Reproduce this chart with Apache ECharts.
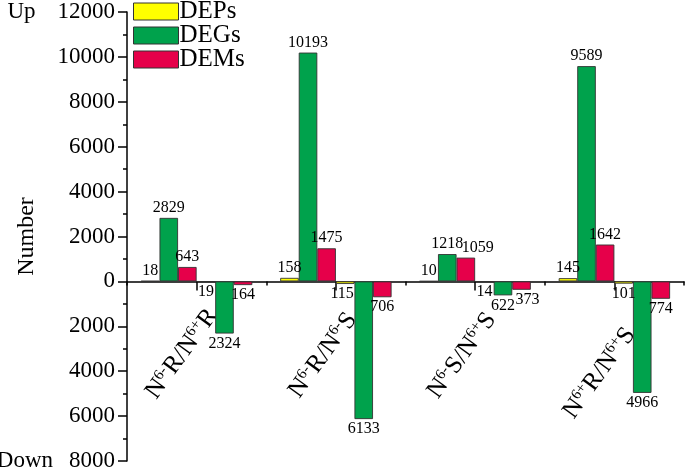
<!DOCTYPE html>
<html>
<head>
<meta charset="utf-8">
<script src="https://cdn.jsdelivr.net/npm/echarts@6/dist/echarts.min.js"></script>
<style>html,body{margin:0;padding:0;background:#fff;}#c{width:685px;height:469px;}</style>
</head>
<body>
<div id="c"></div>
<script>
const categories = ['N6-R/N6+R', 'N6-R/N6-S', 'N6-S/N6+S', 'N6+R/N6+S'];
const upDEPs = [18, 158, 10, 145];
const upDEGs = [2829, 10193, 1218, 9589];
const upDEMs = [643, 1475, 1059, 1642];
const downDEPs = [19, 115, 14, 101];
const downDEGs = [2324, 6133, 622, 4966];
const downDEMs = [164, 706, 373, 774];
const yTicks = { max: 12000, min: -8000, interval: 2000 };

const FONT = 'Liberation Serif';
const colors = { DEPs: '#FFFF00', DEGs: '#00A24C', DEMs: '#E6004A' };

const GRID_TOP = 12, GRID_BOTTOM = 8, H = 469;
const zeroY = GRID_TOP + (H - GRID_TOP - GRID_BOTTOM) * yTicks.max / (yTicks.max - yTicks.min);

// extra downward drop (px) of individual category labels
const catLabelDrop = [0, 4, 4, 19];
// horizontal nudges of a few value labels: key = series key + '-' + category index
const valueLabelNudge = { 'upDEMs-2': 12, 'downDEMs-2': 6, 'downDEPs-1': -3 };

function catLabel(v) {
  return v.split(/(6[+-])/).filter(Boolean).map(p =>
    /^6[+-]$/.test(p) ? '{s|' + p + '}' : '{b|' + p + '}').join('');
}

function mkSeries(key, name, data, up) {
  return {
    type: 'bar', name: name,
    data: data.map((v, i) => {
      const item = { value: up ? v : -v };
      const dx = valueLabelNudge[key + '-' + i];
      if (dx) item.label = { offset: [dx, 0] };
      return item;
    }),
    barGap: '0%', barCategoryGap: '20%',
    itemStyle: { color: colors[name], borderColor: '#333', borderWidth: 0.9 },
    label: {
      show: true, position: up ? 'top' : 'bottom', distance: 2,
      color: '#000', fontFamily: FONT, fontSize: 16,
      formatter: p => String(Math.abs(p.value))
    }
  };
}

const chart = echarts.init(document.getElementById('c'));
chart.setOption({
  animation: false,
  backgroundColor: '#fff',
  grid: [
    { left: 127, right: 1, top: GRID_TOP, bottom: GRID_BOTTOM, containLabel: false, outerBoundsMode: 'none' },
    { left: 143, right: -15, top: GRID_TOP, bottom: H - zeroY, containLabel: false, outerBoundsMode: 'none' }
  ],
  legend: {
    data: ['DEPs', 'DEGs', 'DEMs'], orient: 'vertical', left: 128, top: -6,
    icon: 'rect',
    itemWidth: 45, itemHeight: 17, itemGap: -1,
    textStyle: { fontFamily: FONT, fontSize: 25, color: '#000', lineHeight: 20, padding: [0, 0, 0, -4] },
    itemStyle: { borderColor: '#333', borderWidth: 1 }
  },
  xAxis: [{
    type: 'category', data: categories, gridIndex: 0,
    axisLine: { onZero: true, onZeroAxisIndex: 0, lineStyle: { color: '#000', width: 1.5 } },
    axisTick: { show: true, length: 4, lineStyle: { color: '#000', width: 1.5 } },
    axisLabel: { show: false },
    splitLine: { show: false }
  }, {
    type: 'category', data: categories, gridIndex: 0, position: 'bottom',
    axisLine: { show: false, onZero: true, onZeroAxisIndex: 1 },
    axisTick: { show: true, alignWithLabel: true, length: 9, lineStyle: { color: '#000', width: 1.5 } },
    axisLabel: { show: false },
    splitLine: { show: false }
  }, {
    type: 'category', gridIndex: 1, position: 'bottom',
    data: categories.map((c, i) => {
      const r = catLabelDrop[i] / 1.236;
      return { value: c, textStyle: { padding: [1.452 * r, r, 0, 0] } };
    }),
    axisLine: { show: false, onZero: false },
    axisTick: { show: false },
    axisLabel: {
      interval: 0, rotate: 54, margin: 30, color: '#000',
      formatter: catLabel,
      rich: {
        b: { fontFamily: FONT, fontSize: 25, lineHeight: 26, color: '#000' },
        s: { fontFamily: FONT, fontSize: 15, lineHeight: 15, verticalAlign: 'top', color: '#000' }
      }
    },
    splitLine: { show: false }
  }],
  yAxis: [{
    type: 'value', gridIndex: 0, min: yTicks.min, max: yTicks.max, interval: yTicks.interval,
    name: 'Number', nameLocation: 'middle', nameGap: 88, nameMoveOverlap: false,
    nameTextStyle: { fontFamily: FONT, fontSize: 24, color: '#000' },
    axisLine: { show: true, lineStyle: { color: '#000', width: 1.5 } },
    axisTick: { show: true, length: 9, lineStyle: { color: '#000', width: 1.5 } },
    minorTick: { show: true, splitNumber: 2, length: 4, lineStyle: { color: '#000', width: 1.5 } },
    splitLine: { show: false },
    axisLabel: {
      margin: 12, color: '#000', fontFamily: FONT, fontSize: 23,
      formatter: v => v === yTicks.max ? '{w|Up}' + v : (v === yTicks.min ? '{d|Down}' + Math.abs(v) : String(Math.abs(v))),
      rich: {
        w: { fontFamily: FONT, fontSize: 23, color: '#000', padding: [0, 22, 0, 0] },
        d: { fontFamily: FONT, fontSize: 23, color: '#000', padding: [0, 16, 0, 0] }
      }
    }
  }, {
    type: 'value', gridIndex: 0, min: yTicks.min, max: yTicks.max, interval: yTicks.interval,
    position: 'left',
    axisLine: { show: false }, axisTick: { show: false }, axisLabel: { show: false },
    splitLine: { show: false }
  }, {
    type: 'value', gridIndex: 1, min: 0, max: yTicks.max, interval: yTicks.interval,
    show: false, splitLine: { show: false }
  }],
  series: [
    mkSeries('upDEPs', 'DEPs', upDEPs, true),
    mkSeries('upDEGs', 'DEGs', upDEGs, true),
    mkSeries('upDEMs', 'DEMs', upDEMs, true),
    mkSeries('downDEPs', 'DEPs', downDEPs, false),
    mkSeries('downDEGs', 'DEGs', downDEGs, false),
    mkSeries('downDEMs', 'DEMs', downDEMs, false)
  ]
});
</script>
</body>
</html>
